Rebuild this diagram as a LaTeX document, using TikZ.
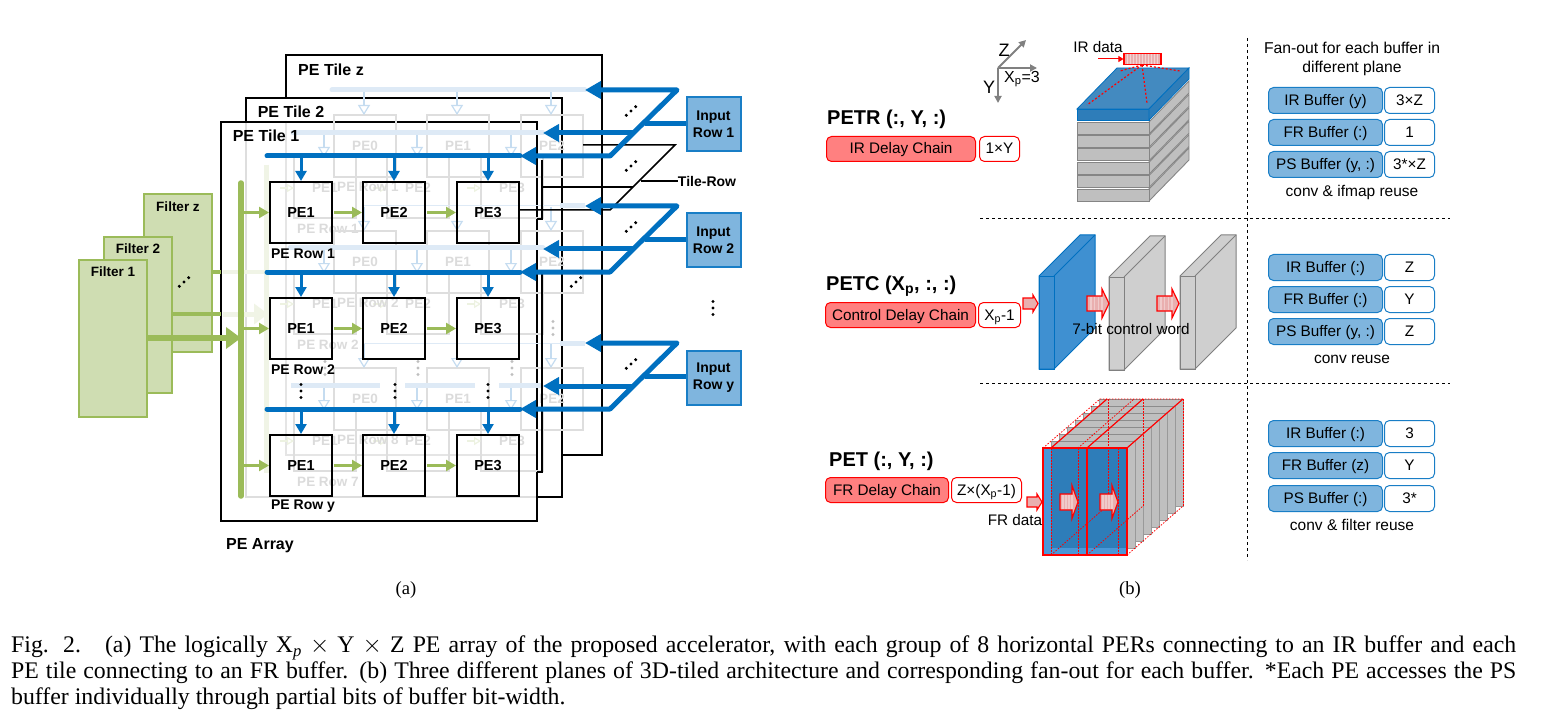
\documentclass[tikz,border=0pt]{standalone}
\usepackage{fontspec}
\setmainfont{Liberation Sans}
\newfontfamily\capfont{Liberation Serif}
\usetikzlibrary{arrows.meta}
\definecolor{mainblue}{HTML}{0070C0}
\definecolor{fadeblue}{HTML}{DEEAF6}
\definecolor{dropblue}{HTML}{C5DCF0}
\definecolor{boxblue}{HTML}{7FB5DE}
\definecolor{filtgreen}{HTML}{9BBB59}
\definecolor{filtfill}{HTML}{CFDDB2}
\definecolor{fadegreen}{HTML}{F0F4E6}
\definecolor{chainred}{HTML}{FF8080}
\definecolor{pinkred}{HTML}{E9AFAF}
\definecolor{plategray}{HTML}{BFBFBF}
\definecolor{plateblue}{HTML}{2E7DB9}
\definecolor{lightplate}{HTML}{4A97D8}
\tikzset{
  tilebox/.style={draw=black,line width=1.8pt,fill=white},
  pebox/.style={draw=black,line width=2pt,minimum width=62pt,minimum height=61pt,inner sep=0pt,anchor=north west,font=\fontsize{14.5}{16}\selectfont\bfseries},
  filterbox/.style={draw=filtgreen,line width=2pt,fill=filtfill},
  inputbox/.style={draw=mainblue!90,line width=2pt,fill=boxblue,minimum width=54pt,minimum height=54pt,inner sep=0pt,align=center,font=\fontsize{14}{17}\selectfont\bfseries},
  boldtext/.style={inner sep=0pt,font=\fontsize{13.5}{15}\selectfont\bfseries},
  tiletext/.style={inner sep=0pt,font=\fontsize{16}{18}\selectfont\bfseries},
  bigbold/.style={inner sep=0pt,anchor=west,font=\fontsize{20}{22}\selectfont\bfseries},
  plaintext/.style={inner sep=0pt,font=\fontsize{15.3}{18}\selectfont},
  ghosttext/.style={inner sep=0pt,text=black!14,font=\fontsize{13.5}{15}\selectfont\bfseries},
  ghostbox/.style={draw=black!13,line width=1.2pt},
  fadebus/.style={draw=fadeblue,line width=5pt,line cap=round},
  fadedown/.style={draw=dropblue,line width=1.2pt,-{Triangle[open,length=10pt,width=12pt]}},
  bus/.style={draw=mainblue,line width=5pt},
  feed/.style={draw=mainblue,line width=5pt,-{Triangle[length=16pt,width=17pt]}},
  drop/.style={draw=mainblue,line width=3pt,-{Triangle[length=10pt,width=11pt]}},
  greenline/.style={draw=filtgreen,line width=3pt,-{Triangle[length=10pt,width=11pt]}},
  inlabel/.style={text height=13pt,text depth=3pt,inner sep=0pt,anchor=north west,font=\fontsize{15.3}{18}\selectfont},
  chainbox/.style={inlabel,draw=red,line width=1pt,fill=chainred,rounded corners=5pt,minimum height=25pt},
  valred/.style={inlabel,draw=red,line width=1pt,fill=white,rounded corners=5pt,minimum height=25pt},
  bufbox/.style={inlabel,draw=mainblue!90,line width=1pt,fill=boxblue,rounded corners=5pt,minimum width=114pt,minimum height=26pt},
  valblue/.style={inlabel,draw=mainblue!90,line width=1pt,fill=white,rounded corners=5pt,minimum width=50pt,minimum height=26pt},
  sepline/.style={draw=black,line width=1pt,dash pattern=on 3pt off 3pt},
  axis/.style={draw=black!50,line width=1.8pt,-{Triangle[length=7pt,width=7pt]}},
  plate/.style={draw=black!48,line width=.9pt,fill=plategray},
  cubered/.style={draw=red,line width=1.2pt},
  cubedash/.style={draw=red,line width=.8pt,dash pattern=on 1.5pt off 1.5pt},
  capnode/.style={inner sep=0pt,font=\capfont\fontsize{18.6}{26}\selectfont}
}
% three dots along a diagonal
\newcommand{\slantdots}[2]{\fill (#1-4.7,#2+4.3) circle (1.7pt) (#1,#2) circle (1.7pt) (#1+4.7,#2-4.3) circle (1.7pt);}
\newcommand{\rowdots}[2]{\fill (#1,#2-6.5) circle (1.7pt) (#1,#2) circle (1.7pt) (#1,#2+6.5) circle (1.7pt);}
% striped block arrow: left, centre y, shaft, head, half shaft, half head
\newcommand{\blockarrow}[6]{
  \draw[red,line width=1.2pt,fill=pinkred,line join=miter] (#1,#2-#5)--(#1+#3,#2-#5)--(#1+#3,#2-#6)--(#1+#3+#4,#2)--(#1+#3,#2+#6)--(#1+#3,#2+#5)--(#1,#2+#5)--cycle;
  \foreach \s in {0.2,0.45,0.7,0.95}
    \fill[white,opacity=.35] (#1+\s*#3,#2-#5+.7) rectangle (#1+\s*#3+.11*#3,#2+#5-.7);
}
\begin{document}
\begin{tikzpicture}[x=1pt,y=-1pt]
  \useasboundingbox (0,0) rectangle (1553,722);
  % filters
  \draw[filterbox] (144,194) rectangle (212,352);
  \draw[filterbox] (104,237) rectangle (172,393);
  \draw[filterbox] (79,260) rectangle (147,417);
  \node[boldtext] (filtz) at (178,207) {Filter z};
  \node[boldtext] (filt2) at (138,249) {Filter 2};
  \node[boldtext] (filt1) at (113,272) {Filter 1};
  \slantdots{184}{282}
  % tiles
  \draw[tilebox] (286,55) rectangle (602,455);
  \draw[tilebox] (246,98) rectangle (562,497);
  \draw[tilebox] (221,122) rectangle (537,521);
  \draw[black!13,line width=2pt] (246,123)--(246,497)--(536,497);
  \draw[black!10,line width=1.5pt] (286,123)--(286,455)--(536,455);
  % what shows through from the tiles behind
  \draw[fadegreen,line width=5pt] (266,165)--(266,473);
  \draw[fadegreen,line width=4pt] (223,272)--(264,272);
  \draw[fadegreen,line width=5pt,-{Triangle[length=14pt,width=20pt]}] (223,314)--(268,314);
  \foreach \r/\gy/\gz/\txa/\txb/\busb/\busz in {1/157/115/1/1/133/90,2/273/231/2/2/248/206,3/410/368/7/8/385/343}{
    \foreach \c/\gx/\gw in {1/294/334,2/387/427,3/481/521}{
      \pgfmathtruncatemacro{\gl}{\c-1}
      \draw[ghostbox] (\gw,\gz) rectangle +(62,62);
      \node[ghosttext] (ghz\r\c) at (\gw+31,\gz+31) {PE\gl};
      \draw[ghostbox] (\gx,\gy) rectangle +(62,61);
      \node[ghosttext] (ght\r\c) at (\gx+31,\gy+31) {PE\c};
      \draw[fadegreen!70!filtgreen!45,line width=1.2pt,-{Triangle[open,length=7pt,width=8pt]}] (\gx-14,\gy+31)--(\gx,\gy+31);
      \draw[fadedown] (\gx+30,\busb+1)--(\gx+30,\gy);
      \draw[fadedown] (\gw+30,\busz+1)--(\gw+30,\gz);
    }
    \node[ghosttext] (ghtrow\r) at (328,\gy+72) {PE Row \txa};
    \node[ghosttext] (ghzrow\r) at (368,\gy+30) {PE Row \txb};
  }
  \draw[fadebus] (332,90)--(585,90);
  \draw[fadebus] (293,133)--(543,133);
  \draw[fadebus] (290,248)--(543,248);
  \draw[fadeblue,line width=1pt] (364,206)--(560,206) (364,343)--(560,343);
  \draw[fadebus,line cap=butt] (560,206)--(585,206);
  \draw[fadebus,line cap=butt] (560,343)--(585,343);
  \draw[fadebus,line cap=butt] (291,385)--(380,385);
  \draw[fadebus,line cap=butt] (405,385)--(475,385);
  \draw[fadebus,line cap=butt] (499,385)--(543,385);
  \begin{scope}[black!25]
    \rowdots{325}{368}\rowdots{418}{368}\rowdots{512}{368}\rowdots{553}{328}
  \end{scope}
  \node[tiletext] (tilez) at (331,70) {PE Tile z};
  \node[tiletext] (tile2) at (291,112) {PE Tile 2};
  \node[tiletext] (tile1) at (266,136) {PE Tile 1};
  % tile-row plane
  \coordinate (planea) at (583,145);
  \coordinate (planeb) at (675,145);
  \coordinate (planec) at (610,210);
  \draw[black,line width=1.5pt] (537,219)--(542,219)--(542,160);
  \draw[black,line width=1.5pt] (537,472)--(542,472)--(542,273);
  \draw[black,line width=1.5pt] (542,187)--(633,187);
  \node[tiletext,font=\fontsize{14}{16}\selectfont\bfseries] (tilerow) at (707,181) {Tile-Row};
  % PE grid
  \foreach \r/\ya in {1/181,2/297,3/434}{
    \foreach \c/\xa in {1/269,2/362,3/456}{
      \node[pebox] (pe\r\c) at (\xa,\ya) {PE\c};
    }
  }
  \draw[black,line width=1.5pt] (planea)--(planeb)--(planec)--(pe13.east|-planec);
  \draw[black,line width=1.5pt] (641,181)--(tilerow.west);
  % buses and feeds for each input row
  \foreach \r/\dy/\lab/\ybox in {1/0/1/124.5,2/116/2/240,3/253/y/377.5}{
    \node[inputbox] (in\r) at (713.5,\ybox) {Input\\Row \lab};
    \begin{scope}[shift={(0,\dy)}]
      \coordinate (low\r) at (610,156);
      \coordinate (top\r) at (677,90);
      \coordinate (lowtip\r) at (520,156);
      \coordinate (toptip\r) at (585,90);
      \coordinate (midtip\r) at (543,133);
      \coordinate (mid\r) at (633,133);
      \coordinate (join\r) at (645,123.5);
      \draw[bus,line cap=round] (267,156)--(lowtip\r);
      \draw[feed,line join=round,{Triangle[length=16pt,width=17pt]}-{Triangle[length=16pt,width=17pt]}] (lowtip\r)--(low\r)--(top\r)--(toptip\r);
      \draw[feed] (mid\r)--(midtip\r);
      \draw[bus] (in\r.west|-join\r)--(join\r);
    \end{scope}
    \slantdots{631}{111+\dy}
  }
  \slantdots{631}{166}
  \slantdots{576}{282}
  \rowdots{713}{308}
  \rowdots{301}{391}\rowdots{395}{391}\rowdots{488}{391}
  \foreach \r/\by in {1/156,2/272,3/409}{
    \foreach \c in {1,2,3}{
      \draw[drop] (pe\r\c.north|-0,\by)--(pe\r\c.north);
    }
  }
  % filter feeds
  \draw[filtgreen,line width=5.5pt,line cap=round] (241,183)--(241,496);
  \draw[filtgreen,line width=4pt] (212,272)--(221,272);
  \draw[filtgreen,line width=4pt] (172,314)--(221,314);
  \draw[filtgreen,line width=6pt,-{Triangle[length=15pt,width=21pt]}] (147,338)--(241,338);
  \foreach \r in {1,2,3}{
    \draw[greenline] (241,0|-pe\r1.west)--(pe\r1.west);
    \draw[greenline] (pe\r1.east)+(1,0)--(pe\r2.west);
    \draw[greenline] (pe\r2.east)+(1,0)--(pe\r3.west);
  }
  \node[boldtext,font=\fontsize{14}{16}\selectfont\bfseries] (row1) at (303,254) {PE Row 1};
  \node[boldtext,font=\fontsize{14}{16}\selectfont\bfseries] (row2) at (303,370) {PE Row 2};
  \node[boldtext,font=\fontsize{14}{16}\selectfont\bfseries] (rowy) at (303,506) {PE Row y};
  \node[tiletext] (array) at (260,546) {PE Array};
  \node[capnode] (suba) at (406,590) {(a)};
  % separators
  \draw[sepline] (980,219)--(1450,219);
  \draw[sepline] (980,383)--(1450,383);
  \draw[sepline] (1247,38)--(1247,560);
  % PETR
  \node[bigbold] (petr) at (827,119) {PETR (:, Y, :)};
  \node[chainbox,minimum width=149pt] (irchain) at (826,136) {IR Delay Chain};
  \node[valred,minimum width=40pt] (irval) at (979,136) {1×Y};
  \coordinate (axo) at (998,68);
  \draw[axis] (axo)--(1037,68);
  \draw[axis] (axo)--(998,103);
  \draw[axis] (axo)--(1026,40);
  \node[plaintext,font=\fontsize{18}{20}\selectfont] (axz) at (1004,50) {Z};
  \node[plaintext,font=\fontsize{18}{20}\selectfont] (axy) at (989,87) {Y};
  \node[plaintext,font=\fontsize{16}{18}\selectfont] (axx) at (1022,79) {X\textsubscript{p}=3};
  \node[plaintext] (irdata) at (1098,47) {IR data};
  % stack of plates
  \foreach \n in {5,4,3,2,1,0}{
    \draw[plate,shift={(0,\n*13.4)}] (1149,122)--(1189,81)--(1189,93)--(1149,134)--cycle;
    \draw[plate,shift={(0,\n*13.4)}] (1077,122) rectangle (1149,134);
  }
  \draw[mainblue,line width=.8pt,fill=plateblue!90] (1077,109)--(1117,68)--(1189,68)--(1149,109)--cycle;
  \draw[mainblue,line width=.8pt,fill=plateblue] (1077,109) rectangle (1149,120);
  \draw[mainblue,line width=.8pt,fill=plateblue] (1149,109)--(1189,68)--(1189,79)--(1149,120)--cycle;
  \draw[red,line width=1.2pt,dash pattern=on 2pt off 2pt] (1142,65)--(1087,105) (1142,65)--(1147,103) (1142,65)--(1120,71) (1142,65)--(1180,71);
  \node[draw=red,line width=1.2pt,fill=pinkred,minimum width=37pt,minimum height=11pt,inner sep=0pt] (irbar) at (1142.5,59) {};
  \foreach \s in {1,...,11}
    \fill[white,opacity=.45] (1124+\s*3,54) rectangle +(1.3,10);
  \coordinate (irin) at (1098,59);
  \draw[red,line width=1pt,-{Triangle[length=5pt,width=6pt]}] (irin)--(irbar.west);
  % PETC
  \node[bigbold] (petc) at (826,286) {PETC (X\textsubscript{p}, :, :)};
  \node[chainbox,minimum width=150pt] (ctrlchain) at (825,302) {Control Delay Chain};
  \node[valred,minimum width=42pt] (ctrlval) at (978,302) {X\textsubscript{p}-1};
  \foreach \xb/\yb/\col/\edge in {1039/276/3F90D1/0070C0,1109/277/CFCFCF/808080,1180/276/CFCFCF/808080}{
    \definecolor{slabfill}{HTML}{\col}
    \definecolor{slabedge}{HTML}{\edge}
    \draw[slabedge,line width=1pt,fill=slabfill] (\xb,\yb)--(\xb+41,\yb-41)--(\xb+56,\yb-41)--(\xb+56,\yb+52)--(\xb+15,\yb+93)--(\xb,\yb+93)--cycle;
    \draw[slabedge,line width=1pt] (\xb,\yb) rectangle +(15,93);
    \draw[slabedge,line width=1pt] (\xb+15,\yb)--(\xb+56,\yb-41);
  }
  \draw[red,line width=1.1pt,fill=pinkred] (1023,298)--(1033,298)--(1033,295)--(1038,303.5)--(1033,312)--(1033,309)--(1023,309)--cycle;
  \blockarrow{1087}{303.5}{15}{7}{7.5}{14.5}
  \blockarrow{1157}{303.5}{15}{7}{7.5}{14.5}
  \node[plaintext] (ctrlword) at (1131,329) {7-bit control word};
  % PET
  \node[bigbold] (pet) at (829,461) {PET (:, Y, :)};
  \node[chainbox,minimum width=123pt] (frchain) at (825,477) {FR Delay Chain};
  \node[valred,minimum width=70pt] (frval) at (951,477) {Z×(X\textsubscript{p}-1)};
  \foreach \n in {7,6,...,1}{
    \draw[plate,draw=black!40,fill=plategray] (1043+8*\n,448-7*\n)--(1043+8*\n+84,448-7*\n)--(1043+8*\n+84,555-7*\n)--(1043+8*\n+8,555-7*\n)--(1043+8*\n+8,448-7*\n+7)--(1043+8*\n,448-7*\n+7)--cycle;
  }
  \fill[plategray] (1051,448)--(1108,399)--(1183,399)--(1127,448)--cycle;
  \foreach \n in {1,...,7}
    \draw[black!45,line width=.8pt] (1043+8*\n,448-7*\n)--(1043+8*\n+84,448-7*\n);
  \draw[mainblue!70!black,fill=lightplate] (1043,448) rectangle (1127,555);
  \fill[plateblue] (1051,448.5) rectangle (1126.5,548);
  \foreach \xc in {1051,1087,1127}
    \draw[cubered] (\xc,448)--(\xc+56,399);
  \draw[cubered] (1043,448)--(1127,448);
  \draw[cubered] (1043,448) rectangle (1127,555);
  \draw[cubered] (1087,448)--(1087,555);
  \foreach \xc in {1051,1078,1118}
    \draw[cubedash] (\xc,448)--(\xc,555);
  \foreach \xc in {1108,1143,1183}
    \draw[cubedash] (\xc,399)--(\xc,506);
  \foreach \xc in {1051,1087,1127}
    \draw[cubedash] (\xc,555)--(\xc+56,506);
  \draw[cubedash] (1043,448)--(1100,399)--(1183,399) (1078,448)--(1134,399);
  \blockarrow{1060}{502}{12}{6}{8}{16.5}
  \blockarrow{1100}{502}{12}{6}{8}{16.5}
  \draw[red,line width=1.1pt,fill=pinkred] (1027,497)--(1037,497)--(1037,494)--(1042,502)--(1037,510)--(1037,507)--(1027,507)--cycle;
  \node[plaintext] (frdata) at (1015,520) {FR data};
  % buffers
  \node[plaintext,align=center,font=\fontsize{15.7}{19}\selectfont] (fanout) at (1352,58.5) {Fan-out for each buffer in\\different plane};
  \foreach \k/\ya/\yb/\yc/\ta/\tb/\tc/\va/\vb/\vc/\last/\lasty in {
    a/87/119/151/IR Buffer (y)/FR Buffer (:)/{PS Buffer (y, :)}/3×Z/1/3*×Z/conv \& ifmap reuse/192,
    b/254/286/318/IR Buffer (:)/FR Buffer (:)/{PS Buffer (y, :)}/Z/Y/Z/conv reuse/359,
    c/420/452/485/IR Buffer (:)/FR Buffer (z)/PS Buffer (:)/3/Y/3*/conv \& filter reuse/525}{
    \node[bufbox] (buf\k1) at (1268,\ya) {\ta};
    \node[valblue] (val\k1) at (1384,\ya) {\va};
    \node[bufbox] (buf\k2) at (1268,\yb) {\tb};
    \node[valblue] (val\k2) at (1384,\yb) {\vb};
    \node[bufbox] (buf\k3) at (1268,\yc) {\tc};
    \node[valblue] (val\k3) at (1384,\yc) {\vc};
    \node[plaintext,font=\fontsize{15.5}{18}\selectfont] (reuse\k) at (1352,\lasty) {\last};
  }
  \node[capnode] (subb) at (1130,590) {(b)};
  % caption
  \node[capnode,anchor=north west,text width=1505pt,align=justify,font=\capfont\fontsize{23.8}{26}\selectfont] (caption) at (11,636) {Fig. 2.\hspace{24pt}(a) The logically X\textsubscript{\textit{p}} $\times$ Y $\times$ Z PE array of the proposed accelerator, with each group of 8 horizontal PERs connecting to an IR buffer and each\linebreak PE tile connecting to an FR buffer. (b) Three different planes of 3D-tiled architecture and corresponding fan-out for each buffer. *Each PE accesses the PS\linebreak buffer individually through partial bits of buffer bit-width.};
\end{tikzpicture}
\end{document}
